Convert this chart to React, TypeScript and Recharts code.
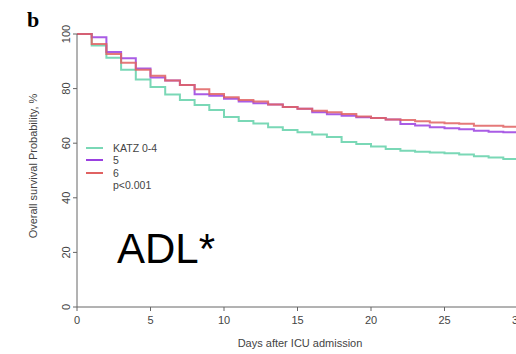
import React from "react";
import { LineChart, Line, XAxis, YAxis, Legend } from "recharts";

const days = Array.from({ length: 31 }, (_, i) => i);
const katz04 = [100, 95.8, 91.3, 86.9, 83.3, 80.6, 77.8, 75.8, 74.0, 72.2, 69.6, 68.1, 67.2, 65.8, 64.8, 64.0, 63.2, 62.3, 60.4, 59.7, 58.8, 57.9, 57.2, 56.9, 56.6, 56.3, 55.9, 55.2, 54.8, 54.2, 54.0];
const katz5 = [100, 98.8, 93.4, 91.1, 87.4, 84.1, 83.0, 81.3, 77.9, 77.4, 76.3, 75.3, 74.6, 74.2, 73.3, 72.6, 71.3, 70.6, 70.1, 69.5, 69.2, 68.7, 67.0, 66.5, 65.8, 65.5, 65.1, 64.6, 64.2, 64.0, 63.8];
const katz6 = [100, 96.3, 92.7, 89.5, 86.9, 84.7, 83.0, 81.3, 79.8, 78.0, 76.8, 75.8, 75.3, 74.2, 73.3, 72.6, 71.9, 71.3, 70.7, 69.8, 69.2, 68.7, 68.5, 68.0, 67.6, 67.3, 67.1, 66.4, 66.4, 66.0, 65.8];
const xTicks = [0, 5, 10, 15, 20, 25, 30];
const yTicks = [0, 20, 40, 60, 80, 100];
const seriesNames = ["KATZ 0-4", "5", "6"];
const seriesColors = ["#7ad8b6", "#9a40e0", "#e06262"];

const data = days.map((d, i) => ({ day: d, a: katz04[i], b: katz5[i], c: katz6[i] }));

const FONT = "'Liberation Sans', Arial, sans-serif";
const TEXT = "#444";
const AXIS = "#666";

const YTick = (props: any) => {
  const { y, payload } = props;
  const x = 70;
  return (
    <text x={x} y={y} transform={`rotate(-90, ${x}, ${y})`} textAnchor="middle" fontSize={11} fill={TEXT} fontFamily={FONT}>
      {payload.value}
    </text>
  );
};

const LegendContent = (props: any) => {
  const payload = [...(props.payload || [])].sort(
    (p: any, q: any) => seriesNames.indexOf(p.value) - seriesNames.indexOf(q.value)
  );
  return (
    <div style={{ fontFamily: FONT, fontSize: 10.5, color: TEXT, lineHeight: "12.3px", textAlign: "left" }}>
      {payload.map((p: any) => (
        <div key={p.value} style={{ display: "flex", alignItems: "center", height: 12.3 }}>
          <span style={{ display: "inline-block", width: 17, height: 2, background: p.color, marginRight: 10 }} />
          <span>{p.value}</span>
        </div>
      ))}
      <div style={{ paddingLeft: 27, height: 12 }}>p&lt;0.001</div>
    </div>
  );
};

export default function App() {
  return (
    <div style={{ position: "fixed", left: 0, top: 0, width: 516, height: 354, overflow: "hidden", background: "#fff" }}>
      <LineChart width={540} height={354} data={data} margin={{ top: 34, right: 22, left: 0, bottom: 0 }}>
        <XAxis
          dataKey="day"
          type="number"
          domain={[0, 30]}
          ticks={xTicks}
          tickSize={4}
          tickMargin={5}
          height={47}
          stroke={AXIS}
          tick={{ fontSize: 11, fill: TEXT, fontFamily: FONT }}
          label={(p: any) => (
            <text x={300} y={347} textAnchor="middle" fontSize={11} fill={TEXT} fontFamily={FONT}>
              Days after ICU admission
            </text>
          )}
        />
        <YAxis
          type="number"
          domain={[0, 100]}
          ticks={yTicks}
          width={77}
          tickSize={4}
          stroke={AXIS}
          tick={<YTick />}
          label={(p: any) => (
            <text x={37} y={166} transform="rotate(-90, 37, 166)" textAnchor="middle" fontSize={11} fill={TEXT} fontFamily={FONT}>
              Overall survival Probability, %
            </text>
          )}
        />
        <Legend
          layout="horizontal"
          verticalAlign="middle"
          align="center"
          itemSorter={null as any}
          wrapperStyle={{ position: "absolute", left: 86, top: 142, width: 120, height: 50 }}
          content={<LegendContent />}
        />
        <Line type="stepAfter" dataKey="a" name={seriesNames[0]} stroke={seriesColors[0]} strokeWidth={2} dot={false} isAnimationActive={false} />
        <Line type="stepAfter" dataKey="b" name={seriesNames[1]} stroke={seriesColors[1]} strokeWidth={2} strokeOpacity={0.85} dot={false} isAnimationActive={false} />
        <Line type="stepAfter" dataKey="c" name={seriesNames[2]} stroke={seriesColors[2]} strokeWidth={2} strokeOpacity={0.85} dot={false} isAnimationActive={false} />
      </LineChart>
      <div style={{ position: "absolute", left: 27, top: 7, fontFamily: "'Liberation Serif', 'Times New Roman', serif", fontWeight: "bold", fontSize: 22, color: "#000" }}>b</div>
      <div style={{ position: "absolute", left: 117, top: 225, fontFamily: "'Liberation Sans', Arial, sans-serif", fontSize: 42, color: "#000", lineHeight: "48px" }}>ADL*</div>
    </div>
  );
}
